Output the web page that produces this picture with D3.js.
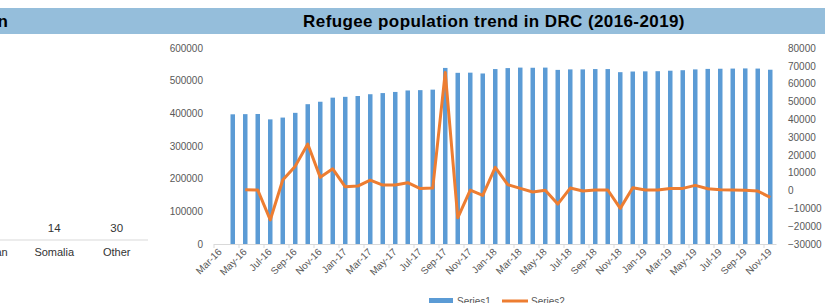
<!DOCTYPE html>
<html>
<head>
<meta charset="utf-8">
<script src="https://d3js.org/d3.v7.min.js"></script>
<style>
  body { margin: 0; background: #fff; }
  svg { font-family: "Liberation Sans", Arial, sans-serif; display: block; }
</style>
</head>
<body>
<div id="vis"></div>
<script>
// months shown on the refugee chart (Apr-16 .. Nov-19)
var months = ("Apr-16 May-16 Jun-16 Jul-16 Aug-16 Sep-16 Oct-16 Nov-16 Dec-16 " +
  "Jan-17 Feb-17 Mar-17 Apr-17 May-17 Jun-17 Jul-17 Aug-17 Sep-17 Oct-17 Nov-17 Dec-17 " +
  "Jan-18 Feb-18 Mar-18 Apr-18 May-18 Jun-18 Jul-18 Aug-18 Sep-18 Oct-18 Nov-18 Dec-18 " +
  "Jan-19 Feb-19 Mar-19 Apr-19 May-19 Jun-19 Jul-19 Aug-19 Sep-19 Oct-19 Nov-19").split(" ");

// Series1 : refugee population (left axis)
var series1 = [397000, 397500, 398000, 381500, 387000, 401500, 428000, 435500, 448000,
  450500, 453000, 458500, 462000, 465500, 470000, 471000, 472500, 539000, 524000, 524500, 522000,
  535500, 538500, 540000, 539500, 540000, 533000, 534500, 534500, 535500, 535500, 526000, 528000,
  528500, 529000, 530500, 532000, 534500, 536000, 536500, 537000, 537500, 537000, 533500];

// Series2 : month to month change (right axis)
var series2 = [null, 500, 300, -16500, 5900, 13700, 26100, 7400, 12200,
  2100, 2500, 5900, 3100, 3100, 4400, 1100, 1400, 66300, -15300, 300, -2700,
  13000, 3300, 1200, -800, 200, -7600, 1400, -300, 300, 300, -10000, 1600,
  300, 300, 1200, 1200, 2900, 1000, 500, 300, 100, -300, -3800];

var xTickLabels = ["Mar-16", "May-16", "Jul-16", "Sep-16", "Nov-16", "Jan-17", "Mar-17", "May-17",
  "Jul-17", "Sep-17", "Nov-17", "Jan-18", "Mar-18", "May-18", "Jul-18", "Sep-18", "Nov-18",
  "Jan-19", "Mar-19", "May-19", "Jul-19", "Sep-19", "Nov-19"];
var leftTicks = [0, 100000, 200000, 300000, 400000, 500000, 600000];
var rightTicks = [-30000, -20000, -10000, 0, 10000, 20000, 30000, 40000, 50000, 60000, 70000, 80000];

// the cut-off chart on the left
var sideCats = ["Sudan", "Somalia", "Other"];
var sideVals = [null, 14, 30];

var title = "Refugee population trend in DRC (2016-2019)";
var legendNames = ["Series1", "Series2"];

var width = 825, height = 303;
var blue = "#5b9bd5", orange = "#ed7d31", grey = "#595959";

var svg = d3.select("#vis").append("svg")
    .attr("width", width)
    .attr("height", height);

// title band across both panels
svg.append("rect")
    .attr("x", 0).attr("y", 8)
    .attr("width", width).attr("height", 26)
    .attr("fill", "#95bedb");

svg.append("text")
    .attr("x", 8).attr("y", 27)
    .attr("text-anchor", "end")
    .attr("font-size", 17).attr("font-weight", "bold")
    .text("Refugees by country of origin");

svg.append("text")
    .attr("x", 494).attr("y", 27)
    .attr("text-anchor", "middle")
    .attr("font-size", 17).attr("font-weight", "bold")
    .attr("letter-spacing", 0.4)
    .attr("fill", "#000")
    .text(title);

// ---- left panel (partly visible) ----
var sx = d3.scaleBand().domain(sideCats).range([-39.5, 148]);

svg.append("line")
    .attr("x1", 0).attr("x2", 148)
    .attr("y1", 240).attr("y2", 240)
    .attr("stroke", "#d9d9d9");

svg.append("g").selectAll("text")
  .data(sideCats)
  .enter().append("text")
    .attr("x", function(d) { return sx(d) + sx.bandwidth() / 2; })
    .attr("y", 256)
    .attr("text-anchor", "middle")
    .attr("font-size", 11)
    .attr("fill", "#333")
    .text(function(d) { return d; });

svg.append("g").selectAll("text")
  .data(sideVals.map(function(v, i) { return {c: sideCats[i], v: v}; })
    .filter(function(d) { return d.v != null; }))
  .enter().append("text")
    .attr("x", function(d) { return sx(d.c) + sx.bandwidth() / 2; })
    .attr("y", 232)
    .attr("text-anchor", "middle")
    .attr("font-size", 11.5)
    .attr("fill", "#333")
    .text(function(d) { return d.v; });

// ---- main chart ----
var slots = ["Mar-16"].concat(months);

var x = d3.scaleBand()
    .domain(slots)
    .range([214, 776.5]);

var yL = d3.scaleLinear().domain([0, 600000]).range([244, 48]);
var yR = d3.scaleLinear().domain([-30000, 80000]).range([244, 48]);

var barW = 4.5;

svg.append("g").selectAll("rect")
  .data(series1)
  .enter().append("rect")
    .attr("x", function(d, i) { return x(months[i]) + x.bandwidth() / 2 - barW / 2; })
    .attr("y", function(d) { return yL(d); })
    .attr("width", barW)
    .attr("height", function(d) { return yL(0) - yL(d); })
    .attr("fill", blue);

// x axis line and ticks
svg.append("line")
    .attr("x1", x.range()[0]).attr("x2", x.range()[1])
    .attr("y1", 244.5).attr("y2", 244.5)
    .attr("stroke", "#d9d9d9");

var xt = svg.append("g").selectAll("g")
  .data(xTickLabels)
  .enter().append("g")
    .attr("transform", function(d) { return "translate(" + x(d) + ",244)"; });

xt.append("line")
    .attr("y1", 0).attr("y2", 4)
    .attr("stroke", "#d9d9d9");

xt.append("text")
    .attr("transform", "translate(6,6) rotate(-45)")
    .attr("text-anchor", "end")
    .attr("dy", "0.35em")
    .attr("font-size", 10)
    .attr("fill", grey)
    .text(function(d) { return d; });

// y axes
svg.append("g")
    .attr("transform", "translate(206,0)")
    .call(d3.axisLeft(yL).tickValues(leftTicks).tickSize(0).tickPadding(3).tickFormat(d3.format("d")))
    .call(function(g) { g.select(".domain").remove(); })
    .selectAll("text")
    .attr("font-size", 10)
    .attr("font-family", "Liberation Sans, Arial, sans-serif")
    .attr("fill", grey);

svg.append("g")
    .attr("transform", "translate(785,0)")
    .call(d3.axisRight(yR).tickValues(rightTicks).tickSize(0).tickPadding(3).tickFormat(d3.format("d")))
    .call(function(g) { g.select(".domain").remove(); })
    .selectAll("text")
    .attr("font-size", 10)
    .attr("font-family", "Liberation Sans, Arial, sans-serif")
    .attr("fill", grey);

// Series2 line
var line = d3.line()
    .defined(function(d) { return d != null; })
    .x(function(d, i) { return x(months[i]) + x.bandwidth() / 2; })
    .y(function(d) { return yR(d); });

svg.append("path")
    .datum(series2)
    .attr("d", line)
    .attr("fill", "none")
    .attr("stroke", orange)
    .attr("stroke-width", 3)
    .attr("stroke-linejoin", "round");

// legend (cut off at the bottom)
var lg = svg.append("g");
lg.append("rect")
    .attr("x", 429).attr("y", 298)
    .attr("width", 24).attr("height", 6)
    .attr("fill", blue);
lg.append("line")
    .attr("x1", 502).attr("x2", 528)
    .attr("y1", 301).attr("y2", 301)
    .attr("stroke", orange).attr("stroke-width", 3);
lg.selectAll("text")
  .data(legendNames)
  .enter().append("text")
    .attr("x", function(d, i) { return i ? 531 : 457; })
    .attr("y", 305)
    .attr("font-size", 10)
    .attr("fill", grey)
    .text(function(d) { return d; });
</script>
</body>
</html>
